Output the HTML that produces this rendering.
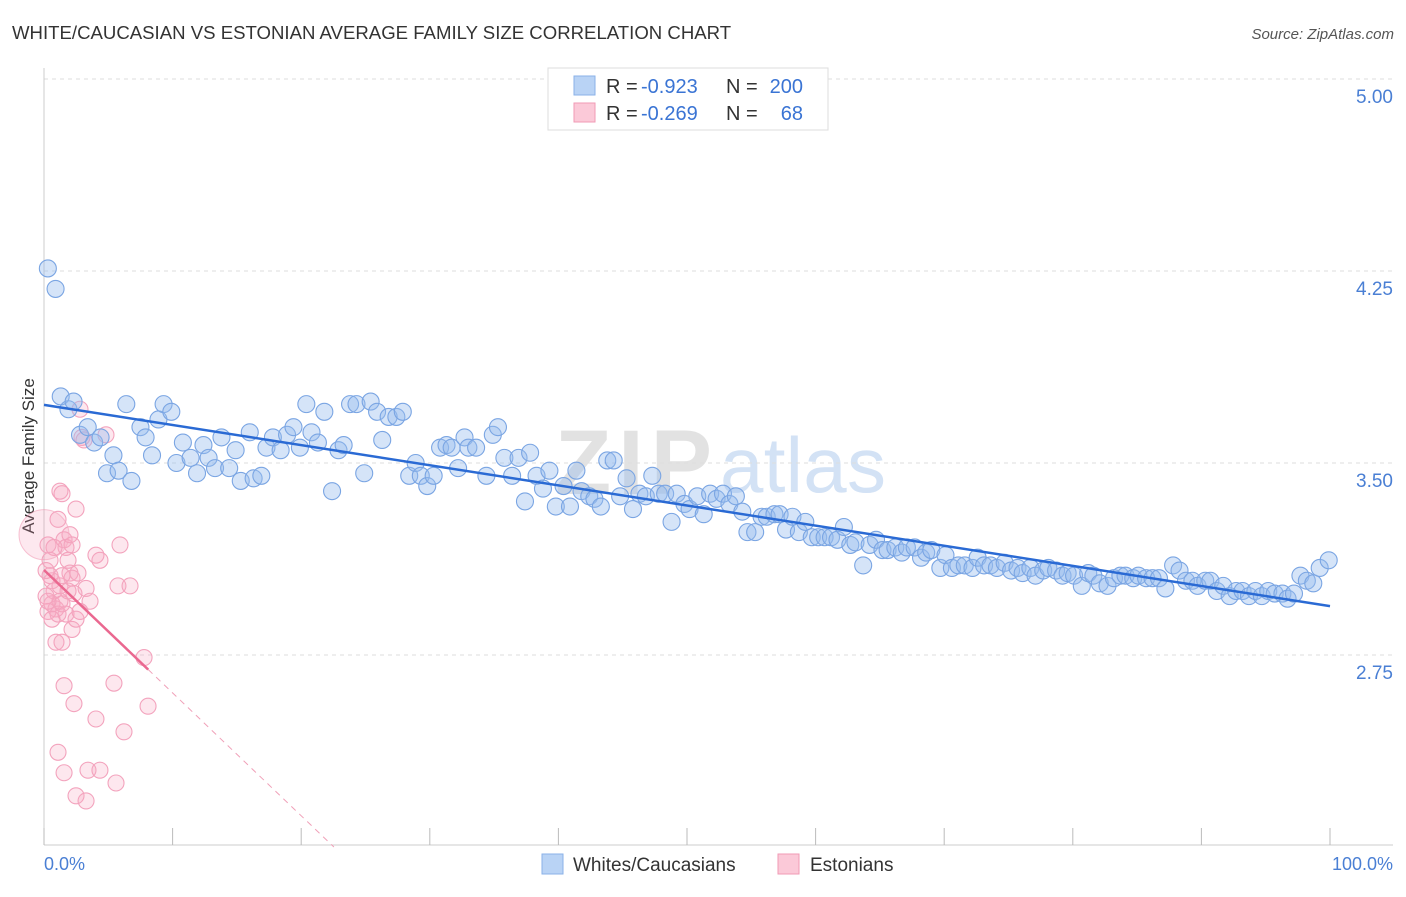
<!DOCTYPE html>
<html><head><meta charset="utf-8"><style>
body{margin:0;background:#fff;font-family:"Liberation Sans",sans-serif;}
svg text{font-family:"Liberation Sans",sans-serif;}
</style></head><body>
<svg id="chart" width="1406" height="892" xmlns="http://www.w3.org/2000/svg">
<text x="12" y="39" font-size="18.6" fill="#333">WHITE/CAUCASIAN VS ESTONIAN AVERAGE FAMILY SIZE CORRELATION CHART</text>
<text x="1394" y="39" font-size="15" fill="#555" font-style="italic" text-anchor="end">Source: ZipAtlas.com</text>
<g>
<text x="555" y="494" font-size="92" fill="#e2e2e2" font-family="Liberation Serif,serif" font-weight="bold" textLength="157">ZIP</text>
<text x="720" y="492" font-size="78" fill="#d3e2f5" textLength="166">atlas</text>
</g>
<g id="grid"></g>
<g id="ylabels"></g>
<line x1="44" y1="68" x2="44" y2="845" stroke="#ccc"/>
<line x1="44" y1="845" x2="1393" y2="845" stroke="#ccc"/>
<g id="xticks"></g>
<text transform="translate(34,456) rotate(-90)" font-size="17" fill="#333" text-anchor="middle">Average Family Size</text>
<text x="44" y="870" font-size="18" fill="#4a7fd4">0.0%</text>
<text x="1393" y="870" font-size="18" fill="#4a7fd4" text-anchor="end">100.0%</text>
<g id="pink"></g>
<g id="blue"></g>
<g id="lines"></g>
<g>
<rect x="548" y="68" width="280" height="62" fill="#fff" stroke="#ddd"/>
<rect x="574" y="76" width="21" height="19" fill="#b9d3f5" stroke="#8ab2e8"/>
<rect x="574" y="103" width="21" height="19" fill="#fbc9d8" stroke="#f09ab5"/>
<text x="606" y="93" font-size="20" fill="#333">R =</text>
<text x="641" y="93" font-size="20" fill="#3a74d4">-0.923</text>
<text x="726" y="93" font-size="20" fill="#333">N =</text>
<text x="803" y="93" font-size="20" fill="#3a74d4" text-anchor="end">200</text>
<text x="606" y="120" font-size="20" fill="#333">R =</text>
<text x="641" y="120" font-size="20" fill="#3a74d4">-0.269</text>
<text x="726" y="120" font-size="20" fill="#333">N =</text>
<text x="803" y="120" font-size="20" fill="#3a74d4" text-anchor="end">68</text>
</g>
<g>
<rect x="542" y="854" width="21" height="20" fill="#b9d3f5" stroke="#8ab2e8"/>
<text x="573" y="871" font-size="19" fill="#333">Whites/Caucasians</text>
<rect x="778" y="854" width="21" height="20" fill="#fbc9d8" stroke="#f09ab5"/>
<text x="810" y="871" font-size="19" fill="#333">Estonians</text>
</g>
</svg>
<script>
const yTicks=[5.00,4.25,3.50,2.75];
const xTickPct=[0,10,20,30,40,50,60,70,80,90,100];
const blueX=[0.3,0.9,1.3,1.9,2.3,2.8,3.4,3.9,4.4,4.9,5.4,5.8,6.4,6.8,7.5,7.9,8.4,8.9,9.3,9.9,10.3,10.8,11.4,11.9,12.4,12.8,13.3,13.8,14.4,14.9,15.3,16.0,16.3,16.9,17.3,17.8,18.4,18.9,19.4,19.9,20.4,20.8,21.3,21.8,22.4,22.9,23.3,23.8,24.3,24.9,25.4,25.9,26.3,26.8,27.4,27.9,28.4,28.9,29.3,29.8,30.3,30.8,31.3,31.7,32.2,32.7,33.0,33.6,34.4,34.9,35.3,35.8,36.4,36.9,37.4,37.8,38.3,38.8,39.3,39.8,40.4,40.9,41.4,41.8,42.4,42.8,43.3,43.8,44.3,44.8,45.3,45.8,46.3,46.8,47.3,47.8,48.3,48.8,49.2,49.8,50.2,50.8,51.3,51.8,52.3,52.8,53.3,53.8,54.3,54.7,55.3,55.8,56.2,56.8,57.2,57.7,58.2,58.7,59.2,59.7,60.2,60.7,61.2,61.7,62.2,62.7,63.1,63.7,64.2,64.7,65.2,65.6,66.2,66.7,67.1,67.7,68.2,68.6,69.0,69.7,70.1,70.6,71.1,71.6,72.2,72.6,73.1,73.6,74.1,74.7,75.2,75.7,76.1,76.7,77.1,77.7,78.1,78.7,79.2,79.6,80.1,80.7,81.2,81.6,82.1,82.7,83.2,83.7,84.1,84.7,85.1,85.7,86.2,86.7,87.2,87.8,88.3,88.8,89.3,89.7,90.3,90.7,91.2,91.7,92.2,92.7,93.2,93.7,94.2,94.7,95.2,95.7,96.3,96.7,97.2,97.7,98.2,98.7,99.2,99.9];
const blueY=[4.26,4.18,3.76,3.71,3.74,3.61,3.64,3.58,3.60,3.46,3.53,3.47,3.73,3.43,3.64,3.60,3.53,3.67,3.73,3.70,3.50,3.58,3.52,3.46,3.57,3.52,3.48,3.60,3.48,3.55,3.43,3.62,3.44,3.45,3.56,3.60,3.55,3.61,3.64,3.56,3.73,3.62,3.58,3.70,3.39,3.55,3.57,3.73,3.73,3.46,3.74,3.70,3.59,3.68,3.68,3.70,3.45,3.50,3.45,3.41,3.45,3.56,3.57,3.56,3.48,3.60,3.56,3.56,3.45,3.61,3.64,3.52,3.45,3.52,3.35,3.54,3.45,3.40,3.47,3.33,3.41,3.33,3.47,3.39,3.37,3.36,3.33,3.51,3.51,3.37,3.44,3.32,3.38,3.37,3.45,3.38,3.38,3.27,3.38,3.34,3.32,3.37,3.30,3.38,3.36,3.38,3.34,3.37,3.31,3.23,3.23,3.29,3.29,3.30,3.30,3.24,3.29,3.23,3.27,3.21,3.21,3.21,3.21,3.20,3.25,3.18,3.19,3.10,3.18,3.20,3.16,3.16,3.17,3.15,3.17,3.17,3.13,3.15,3.16,3.09,3.14,3.09,3.10,3.10,3.09,3.13,3.10,3.10,3.09,3.11,3.08,3.09,3.07,3.09,3.06,3.08,3.09,3.08,3.06,3.07,3.06,3.02,3.07,3.06,3.03,3.02,3.05,3.06,3.06,3.05,3.06,3.05,3.05,3.05,3.01,3.10,3.08,3.04,3.04,3.02,3.04,3.04,3.00,3.02,2.98,3.00,3.00,2.98,3.00,2.98,3.00,2.99,2.99,2.97,2.99,3.06,3.04,3.03,3.09,3.12];
const pinkX=[0.31,0.47,0.62,0.16,0.78,0.93,1.24,1.40,1.56,1.71,1.87,2.02,2.18,2.33,2.49,2.80,2.95,3.11,3.27,3.58,4.04,4.35,4.82,0.31,0.62,1.09,1.24,1.40,1.71,2.18,2.49,2.80,0.93,1.40,1.56,2.33,4.04,5.44,5.75,5.91,6.22,6.69,7.78,8.09,1.09,1.56,2.49,3.27,3.42,4.35,5.60,1.24,0.47,1.87,2.02,2.64,0.62,1.09,1.40,2.18,0.16,0.78,0.31];
const pinkY=[3.18,3.12,3.04,3.08,3.00,2.93,3.39,3.38,3.20,3.17,3.12,3.07,3.05,2.99,3.32,3.71,3.60,3.59,3.01,2.96,3.14,3.12,3.61,2.92,2.95,2.91,2.96,2.95,2.91,2.85,2.89,2.92,2.80,2.80,2.63,2.56,2.50,2.64,3.02,3.18,2.45,3.02,2.74,2.55,2.37,2.29,2.20,2.18,2.30,2.30,2.25,3.02,3.06,3.00,3.22,3.07,2.89,3.28,3.06,3.18,2.98,3.17,2.96];
const blueTrend=[3.727,2.941];
const pinkTrend=[3.082,-0.048];
const NS='http://www.w3.org/2000/svg';
const X=p=>44+p*12.86;
const Y=v=>79+(5-v)*256;
function mk(tag,attrs,parent){const e=document.createElementNS(NS,tag);for(const k in attrs)e.setAttribute(k,attrs[k]);parent.appendChild(e);return e;}
const grid=document.getElementById('grid'),yl=document.getElementById('ylabels');
yTicks.forEach(t=>{
 const l=mk('line',{x1:44,x2:1393,y1:Y(t),y2:Y(t),stroke:'#ddd','stroke-dasharray':'4,4'},grid);
 
 
 const tx=mk('text',{x:1393,y:Y(t)+24,'font-size':19,fill:'#4a7fd4','text-anchor':'end'},yl);
 tx.textContent=t.toFixed(2);
 
 
});
const xt=document.getElementById('xticks');
xTickPct.forEach(p=>{
 const l=mk('line',{x1:X(p),x2:X(p),y1:828,y2:845,stroke:'#bbb'},xt);
 
 
});
const pg=document.getElementById('pink');
const big=mk('circle',{cx:X(0),cy:Y(3.22),r:25,fill:'rgba(244,150,180,0.22)',stroke:'rgba(240,140,170,0.5)'},pg);


pinkX.forEach((x,i)=>{
 const c=mk('circle',{cx:X(x),cy:Y(pinkY[i]),r:8,fill:'rgba(248,170,195,0.28)',stroke:'#f3a3bd','stroke-width':1.1},pg);
 
 
});
const bg=document.getElementById('blue');
blueX.forEach((x,i)=>{
 const c=mk('circle',{cx:X(x),cy:Y(blueY[i]),r:8.5,fill:'rgba(150,188,238,0.4)',stroke:'#7aa5e3','stroke-width':1.1},bg);
 
 
});
const lg=document.getElementById('lines');
const bl=mk('line',{x1:X(0),y1:Y(blueTrend[0]),x2:X(100),y2:Y(blueTrend[1]),stroke:'#2a6ad4','stroke-width':2.5},lg);


const pEnd=(2.0-pinkTrend[0])/pinkTrend[1];
const pd=mk('line',{x1:X(8.1),y1:Y(pinkTrend[0]+pinkTrend[1]*8.1),x2:X(pEnd),y2:Y(2.0),stroke:'#f0a0b8','stroke-width':1,'stroke-dasharray':'6,5'},lg);


const pl=mk('line',{x1:X(0),y1:Y(pinkTrend[0]),x2:X(8.1),y2:Y(pinkTrend[0]+pinkTrend[1]*8.1),stroke:'#ea6890','stroke-width':2.5},lg);


</script>
</body></html>
